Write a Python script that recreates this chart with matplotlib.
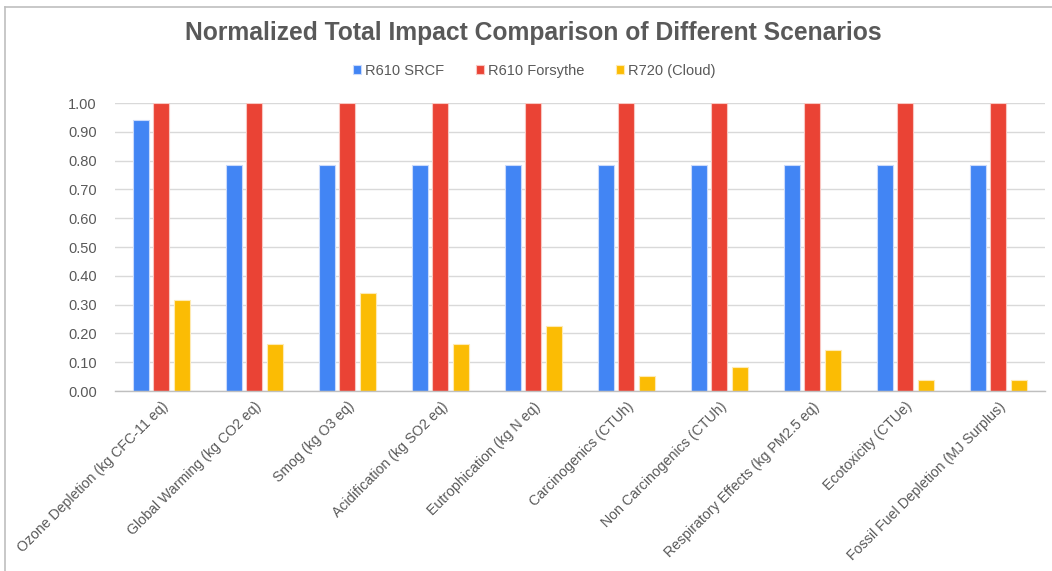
import matplotlib
matplotlib.use("Agg")
import matplotlib.pyplot as plt
from matplotlib.lines import Line2D
import numpy as np

plt.rcParams['font.family'] = ['Liberation Sans', 'DejaVu Sans']

categories = [
    "Ozone Depletion (kg CFC-11 eq)",
    "Global Warming (kg CO2 eq)",
    "Smog (kg O3 eq)",
    "Acidification (kg SO2 eq)",
    "Eutrophication (kg N eq)",
    "Carcinogenics (CTUh)",
    "Non Carcinogenics (CTUh)",
    "Respiratory Effects (kg PM2.5 eq)",
    "Ecotoxicity (CTUe)",
    "Fossil Fuel Depletion (MJ Surplus)",
]
series_names = ["R610 SRCF", "R610 Forsythe", "R720 (Cloud)"]
r610_srcf = [0.94, 0.786, 0.786, 0.786, 0.786, 0.786, 0.786, 0.786, 0.786, 0.786]
r610_forsythe = [1.00, 1.00, 1.00, 1.00, 1.00, 1.00, 1.00, 1.00, 1.00, 1.00]
r720_cloud = [0.316, 0.164, 0.339, 0.163, 0.226, 0.052, 0.083, 0.142, 0.038, 0.038]
y_ticks = [0.0, 0.1, 0.2, 0.3, 0.4, 0.5, 0.6, 0.7, 0.8, 0.9, 1.0]

colors = ["#4285F4", "#EA4335", "#FBBC04"]
edge_colors = ["#c9dafc", "#f8c7c2", "#feeab3"]

fig = plt.figure(figsize=(10.52, 5.71), dpi=100)
ax = fig.add_axes([0.1093, 0.3152, 0.884, 0.5044])

x = np.arange(len(categories))
width = 0.172
offset = 0.222
for i, (vals, c, ec, name) in enumerate(zip([r610_srcf, r610_forsythe, r720_cloud],
                                         colors, edge_colors, series_names)):
    ax.bar(x + (i - 1) * offset, vals, width, color=c, edgecolor=ec,
           linewidth=0.8, label=name, zorder=3)

ax.set_xlim(-0.5, len(categories) - 0.5)
ax.set_ylim(0, 1.0)
ax.set_yticks(y_ticks)
ax.set_yticklabels([f"{v:.2f}" for v in y_ticks])
ax.yaxis.grid(True, color="#d9d9d9", linewidth=1.0, zorder=0)
ax.set_axisbelow(True)
for s in ["top", "right", "left"]:
    ax.spines[s].set_visible(False)
ax.spines["bottom"].set_color("#bfbfbf")
ax.spines["bottom"].set_linewidth(1.0)
ax.spines["bottom"].set_zorder(4)
ax.tick_params(axis="y", length=0, pad=13, labelsize=10.5, labelcolor="#595959")
ax.tick_params(axis="x", length=0, pad=6, labelsize=10.2, labelcolor="#595959")
ax.set_xticks(x)
ax.set_xticklabels(categories, rotation=45, ha="right", rotation_mode="anchor")

fig.text(0.507, 0.942, "Normalized Total Impact Comparison of Different Scenarios",
         ha="center", va="center", fontsize=17.7, fontweight="bold", color="#595959")

leg = fig.legend(loc="center", bbox_to_anchor=(0.508, 0.876), ncol=3, frameon=False,
                 fontsize=10.5, handlelength=0.55, handleheight=0.55,
                 handletextpad=0.25, columnspacing=2.2)
for t in leg.get_texts():
    t.set_color("#595959")

# outer chart frame (top and left edges)
fig.add_artist(Line2D([0.005, 1.0], [0.987, 0.987], transform=fig.transFigure,
                      color="#bfbfbf", linewidth=1.2))
fig.add_artist(Line2D([0.005, 0.005], [0.0, 0.987], transform=fig.transFigure,
                      color="#bfbfbf", linewidth=1.2))

fig.savefig("out.png", dpi=100, facecolor="white")
